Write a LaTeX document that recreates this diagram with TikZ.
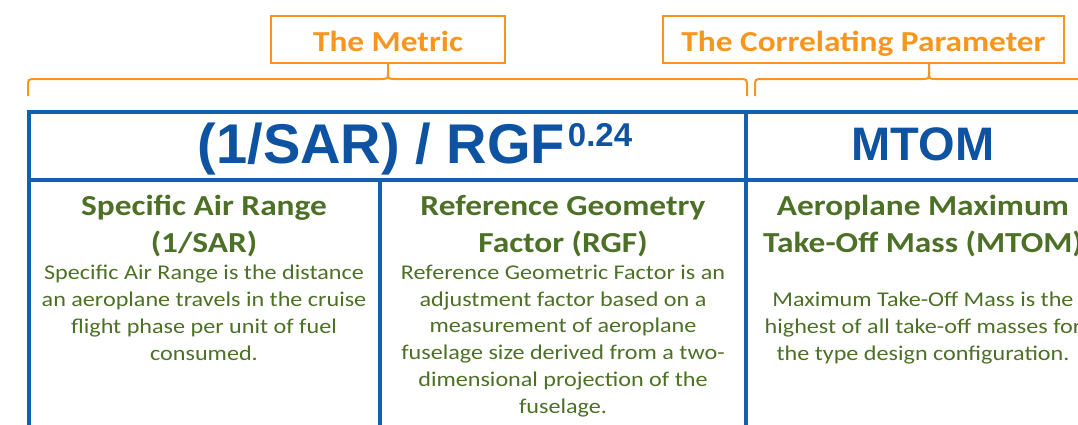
\documentclass[tikz,border=0pt]{standalone}
\usepackage{fontspec}
\newfontfamily\calfont[FakeStretch=1.15]{Carlito}
\newfontfamily\arlfont{Liberation Sans}
\definecolor{orng}{RGB}{247,150,30}
\definecolor{tblue}{RGB}{20,96,176}
\definecolor{txblue}{RGB}{14,82,162}
\definecolor{dgreen}{RGB}{76,112,38}
\tikzset{
 labelbox/.style={draw=orng, line width=2pt, inner sep=0pt, minimum height=47pt, text height=25pt, text depth=2pt, font=\calfont\bfseries\fontsize{29}{35}\selectfont, text=orng},
 bracket/.style={draw=orng, line width=2pt},
 cell/.style={draw=tblue, line width=3.5pt, inner sep=0pt},
 headtxt/.style={text=txblue, inner sep=0pt, anchor=base},
 colhead/.style={text=dgreen, align=center, inner sep=0pt, anchor=base, font=\calfont\bfseries\fontsize{29}{37}\selectfont},
 colbody/.style={text=dgreen, align=center, inner sep=0pt, anchor=base, font=\calfont\fontsize{21}{26.7}\selectfont},
}
\begin{document}
\begin{tikzpicture}[x=1pt,y=-1pt]
\useasboundingbox (0,0) rectangle (1078,424);
\clip (0,0) rectangle (1078,424);
% table cells
\node[cell, minimum width=717pt, minimum height=68pt] (h1) at (387.5,146) {};
\node[cell, minimum width=357pt, minimum height=68pt] (h2) at (924.5,146) {};
\node[cell, minimum width=351pt, minimum height=260pt] (c1) at (204.5,310) {};
\node[cell, minimum width=366pt, minimum height=260pt] (c2) at (563,310) {};
\node[cell, minimum width=357pt, minimum height=260pt] (c3) at (924.5,310) {};
% orange labels
\node[labelbox, minimum width=234pt] (metric) at (388,39.5) {The Metric};
\node[labelbox, minimum width=401pt] (corr) at (863.5,39.5) {The Correlating Parameter};
% braces
\coordinate (b1l) at (28,96);
\coordinate (b1r) at (747,96);
\coordinate (t1) at (388,72);
\coordinate (b2l) at (755,96);
\coordinate (b2r) at (1103,96);
\coordinate (t2) at (929,72);
\draw[bracket] (b1l) -- (28,87) .. controls (28,79) .. (36,79) -- (380,79) .. controls (388,79) .. (t1) -- (metric.south);
\draw[bracket] (t1) .. controls (388,79) .. (396,79) -- (739,79) .. controls (747,79) .. (747,87) -- (b1r);
\draw[bracket] (b2l) -- (755,87) .. controls (755,79) .. (763,79) -- (921,79) .. controls (929,79) .. (t2) -- (t2 |- corr.south);
\draw[bracket] (t2) .. controls (929,79) .. (937,79) -- (1095,79) .. controls (1103,79) .. (1103,87) -- (b2r);
% header texts
\node[headtxt, font=\arlfont\bfseries\fontsize{56}{56}\selectfont] (formula) at (415,163) {(1/SAR) / RGF\hspace{3pt}\raisebox{17pt}{\fontsize{33}{33}\selectfont 0.24}};
\node[headtxt, font=\arlfont\bfseries\fontsize{47}{47}\selectfont] (mtom) at (923,160) {MTOM};
% column headings (anchor base = last line baseline)
\node[colhead] (sarh) at (204,252) {Specific Air Range\\(1/SAR)};
\node[colhead] (rgfh) at (563,252) {Reference Geometry\\Factor (RGF)};
\node[colhead] (mtomh) at (923,252) {Aeroplane Maximum\\Take-Off Mass (MTOM)};
% column bodies
\node[colbody] (sarb) at (204,360) {Specific Air Range is the distance\\an aeroplane travels in the cruise\\flight phase per unit of fuel\\consumed.};
\node[colbody] (rgfb) at (563,413) {Reference Geometric Factor is an\\adjustment factor based on a\\measurement of aeroplane\\fuselage size derived from a two-\\dimensional projection of the\\fuselage.};
\node[colbody] (mtomb) at (923,360) {Maximum Take-Off Mass is the\\highest of all take-off masses for\\the type design configuration.};
\end{tikzpicture}
\end{document}
